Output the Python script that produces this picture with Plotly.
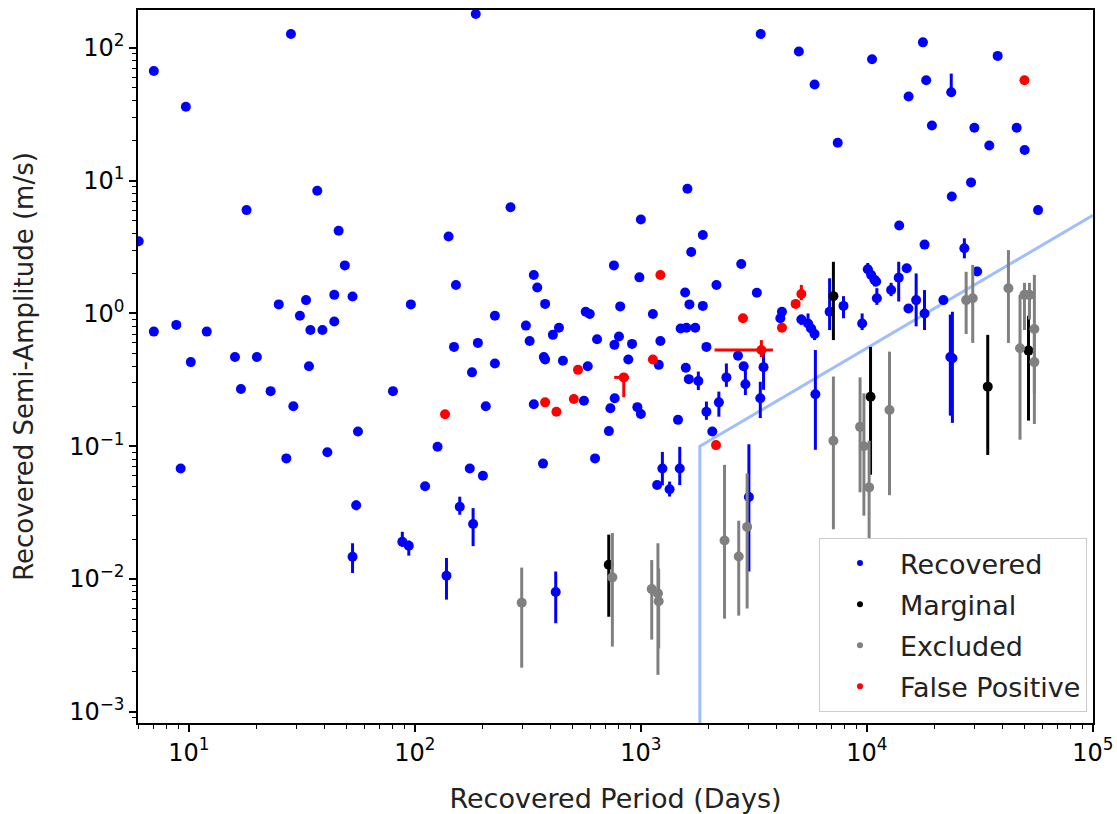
import plotly.graph_objects as go

# ---------------- data ----------------
# Recovered (blue): period (days), K (m/s), upper bound, lower bound
rec_P = [28.3, 7.0, 9.7, 37, 18, 46, 6.0, 49, 141, 152, 44, 53, 33, 25, 96, 7.0, 8.8, 12, 31, 34.5,
         39, 44, 10.2, 16, 20, 34, 149, 17, 23, 80, 29, 56, 9.2, 27, 41, 126, 111, 265, 1000, 1880,
         1670, 760, 336, 985, 348, 1570, 2160, 377, 810, 1640, 1880, 226, 570, 594, 1130, 310, 434, 408, 1500, 1590,
         1740, 190, 322, 640, 800, 764, 914, 1220, 1950, 179, 226, 372, 377, 452, 582, 880, 1200, 1580, 1630, 206,
         336, 560, 766, 733, 965, 1000, 1460, 722, 2070, 175, 200, 369, 627, 1180, 2780, 18000, 3260, 4210, 4140, 2690,
         21800, 30750, 186, 1607, 3390, 5000, 5870, 10540, 17700, 18300, 15300, 37900, 7430, 19400, 29900, 46000, 34800, 49900, 28900, 23750,
         57200, 13900, 15010, 15270,
         55, 158, 181, 53, 88, 94, 138, 420, 1245, 1486, 1340, 3006, 1796, 1950, 2214, 2850, 2900, 3490, 3376, 2390,
         5918, 5130, 5490, 5670, 5870, 6840, 7880, 9530, 10090, 10450, 10810, 10990, 11070, 12800, 13830, 16520, 17990, 23620, 27000, 23400,
         23900]
rec_K = [127, 67, 36, 8.4, 6.0, 4.2, 3.5, 2.3, 3.8, 1.64, 1.38, 1.34, 1.26, 1.17, 1.17, 0.73, 0.82, 0.73, 0.96, 0.75,
         0.75, 0.87, 0.43, 0.47, 0.47, 0.40, 0.56, 0.27, 0.26, 0.26, 0.20, 0.129, 0.068, 0.081, 0.090, 0.099, 0.050, 6.3, 5.1, 3.9,
         2.9, 2.3, 1.95, 1.87, 1.57, 1.44, 1.64, 1.18, 1.13, 1.17, 1.14, 0.96, 1.03, 0.99, 0.99, 0.81, 0.78, 0.69, 0.77, 0.78,
         0.78, 0.60, 0.62, 0.64, 0.67, 0.58, 0.59, 0.62, 0.56, 0.36, 0.42, 0.47, 0.45, 0.44, 0.40, 0.45, 0.41, 0.39, 0.32, 0.20,
         0.207, 0.22, 0.23, 0.193, 0.197, 0.175, 0.158, 0.130, 0.129, 0.068, 0.060, 0.074, 0.081, 0.051, 2.36, 3.3, 1.43, 1.03, 0.92, 0.48,
         1.26, 2.07, 180, 8.7, 127, 94, 53, 82, 110, 57, 43, 87, 19.3, 26, 25, 25, 18.4, 17, 9.7, 7.6,
         6.0, 4.6, 2.19, 1.09,
         0.036, 0.035, 0.026, 0.0147, 0.0191, 0.0178, 0.0106, 0.0080, 0.068, 0.068, 0.0474, 0.0415, 0.31, 0.182, 0.214, 0.40, 0.293, 0.394, 0.23, 0.33,
         0.246, 0.90, 0.84, 0.77, 0.70, 1.03, 1.14, 0.84, 2.15, 1.95, 1.79, 1.74, 1.30, 1.50, 1.86, 1.26, 1.00, 46.3, 3.1, 0.47,
         0.46]
rec_hi = rec_K[:124] + [
         0.039, 0.0417, 0.0342, 0.0186, 0.0227, 0.0195, 0.0144, 0.0114, 0.0906, 0.099, 0.0542, 0.1035, 0.365, 0.217, 0.258, 0.43, 0.42, 0.52, 0.306, 0.42,
         0.53, 0.98, 1.00, 0.86, 0.78, 1.84, 1.35, 1.00, 2.40, 2.20, 2.00, 1.90, 1.55, 1.70, 2.45, 2.00, 1.50, 64, 3.68, 0.98,
         1.03]
rec_lo = rec_K[:124] + [
         0.033, 0.0305, 0.0177, 0.0111, 0.0175, 0.0150, 0.0070, 0.00465, 0.0508, 0.051, 0.0418, 0.0114, 0.265, 0.158, 0.167, 0.37, 0.243, 0.266, 0.163, 0.28,
         0.094, 0.82, 0.74, 0.70, 0.63, 0.75, 0.92, 0.75, 1.95, 1.75, 1.60, 1.60, 1.16, 1.35, 1.23, 0.80, 0.75, 43, 2.6, 0.17,
         0.15]

# Marginal (black)
mar_P = [721, 7110, 10380, 34260, 51900]
mar_K = [0.0128, 1.35, 0.236, 0.281, 0.525]
mar_hi = [0.0216, 2.45, 0.56, 0.69, 0.96]
mar_lo = [0.0052, 0.63, 0.061, 0.086, 0.156]

# Excluded (grey)
exc_P = [297, 748, 1117, 1190, 1199, 2345, 2710, 2952, 7110, 9330, 9700, 10230, 12590, 27490, 29400, 42300, 47600,
         49800, 52400, 55100, 55100]
exc_K = [0.00664, 0.0103, 0.0084, 0.0078, 0.0068, 0.0195, 0.0148, 0.0247, 0.11, 0.14, 0.10, 0.049, 0.1876, 1.26, 1.30, 1.55, 0.547,
         1.38, 1.38, 0.764, 0.43]
exc_hi = [0.0122, 0.0222, 0.0139, 0.0186, 0.012, 0.0724, 0.0275, 0.0624, 0.335, 0.33, 0.25, 0.11, 0.516, 2.06, 2.32, 3.0, 1.38,
          1.70, 1.70, 1.95, 0.70]
exc_lo = [0.00215, 0.0031, 0.0035, 0.0019, 0.003, 0.00503, 0.0053, 0.006, 0.0237, 0.045, 0.03, 0.014, 0.0428, 0.70, 0.60, 0.60, 0.112,
          0.75, 0.90, 0.147, 0.25]

# False positive (red)
fp_P = [136, 1220, 527, 1130, 840, 377, 423, 505, 2150, 5130, 4840, 2830, 4210, 3413, 49800]
fp_K = [0.174, 1.95, 0.376, 0.45, 0.33, 0.214, 0.182, 0.227, 0.102, 1.40, 1.18, 0.92, 0.78, 0.531, 57]
fp_hi = [0.174, 1.95, 0.376, 0.45, 0.355, 0.214, 0.182, 0.227, 0.102, 1.64, 1.18, 0.92, 0.78, 0.63, 57]
fp_lo = [0.174, 1.95, 0.376, 0.45, 0.234, 0.214, 0.182, 0.227, 0.102, 1.26, 1.18, 0.92, 0.78, 0.47, 57]
fp_Phi = [136, 1220, 527, 1130, 885, 377, 423, 505, 2150, 5130, 4840, 2830, 4210, 3839, 49800]
fp_Plo = [136, 1220, 527, 1130, 762, 377, 423, 505, 2150, 5130, 4840, 2830, 4210, 2118, 49800]

# Detection limit line
lim_P = [1824, 1824, 100000]
lim_K = [1e-4, 0.1, 5.48]

# Tick labels
x_tickvals = [10, 100, 1000, 10000, 100000]
x_ticktext = ["10<sup>1</sup>", "10<sup>2</sup>", "10<sup>3</sup>", "10<sup>4</sup>", "10<sup>5</sup>"]
y_tickvals = [1e-3, 1e-2, 1e-1, 1, 10, 100]
y_ticktext = ["10<sup>−3</sup>", "10<sup>−2</sup>", "10<sup>−1</sup>", "10<sup>0</sup>", "10<sup>1</sup>", "10<sup>2</sup>"]

FONT = "DejaVu Sans"

fig = go.Figure()

fig.add_trace(go.Scatter(x=lim_P, y=lim_K, mode="lines",
                         line=dict(color="rgb(160,190,255)", width=3),
                         showlegend=False, hoverinfo="skip"))


def add_group(P, K, hi, lo, color, Phi=None, Plo=None):
    ey = dict(type="data", symmetric=False,
              array=[h - k for h, k in zip(hi, K)],
              arrayminus=[k - l for k, l in zip(K, lo)],
              color=color, thickness=3, width=0)
    kw = {}
    if Phi is not None:
        kw["error_x"] = dict(type="data", symmetric=False,
                             array=[h - p for h, p in zip(Phi, P)],
                             arrayminus=[p - l for p, l in zip(P, Plo)],
                             color=color, thickness=3, width=0)
    fig.add_trace(go.Scatter(x=P, y=K, mode="markers",
                             marker=dict(color=color, size=10, line=dict(width=0)),
                             error_y=ey, showlegend=False, **kw))


add_group(rec_P, rec_K, rec_hi, rec_lo, "#0000ff")
add_group(mar_P, mar_K, mar_hi, mar_lo, "#000000")
add_group(exc_P, exc_K, exc_hi, exc_lo, "#808080")
add_group(fp_P, fp_K, fp_hi, fp_lo, "#ff0000", fp_Phi, fp_Plo)

legend_names = ["Recovered", "Marginal", "Excluded", "False Positive"]
legend_colors = ["#0000ff", "#000000", "#808080", "#ff0000"]
for i, (nm, c) in enumerate(zip(legend_names, legend_colors)):
    fig.add_trace(go.Scatter(x=[None], y=[None], mode="markers", name=nm,
                             marker=dict(color=c, size=6), legendgroup=str(i)))

axis_common = dict(type="log", showgrid=False, zeroline=False, showline=True,
                   linecolor="black", linewidth=1.5, mirror=True, automargin=False,
                   ticks="outside", ticklen=7, tickwidth=1.5, tickcolor="black",
                   tickfont=dict(family=FONT, size=24, color="black"),
                   minor=dict(ticks="outside", ticklen=4, tickwidth=1, tickcolor="black",
                              dtick="D1", showgrid=False))

fig.update_layout(
    width=1117, height=814,
    margin=dict(l=138, r=24, t=10, b=91, autoexpand=False),
    paper_bgcolor="white", plot_bgcolor="white",
    font=dict(family=FONT, size=24, color="black"),
    xaxis=dict(range=[0.775, 5.0005], tickvals=x_tickvals, ticktext=x_ticktext,
               title=dict(text="Recovered Period (Days)", font=dict(family=FONT, size=27, color="#222"), standoff=24),
               **axis_common),
    yaxis=dict(range=[-3.084, 2.285], tickvals=y_tickvals, ticktext=y_ticktext,
               title=dict(text="Recovered Semi-Amplitude (m/s)", font=dict(family=FONT, size=26, color="#222"), standoff=28),
               **axis_common),
    legend=dict(x=0.9937, y=0.0154, xanchor="right", yanchor="bottom",
                bgcolor="white", bordercolor="#cccccc", borderwidth=1,
                font=dict(family=FONT, size=27, color="#222"),
                itemwidth=70, tracegroupgap=3),
    showlegend=True,
)

fig.write_html("out.html")
